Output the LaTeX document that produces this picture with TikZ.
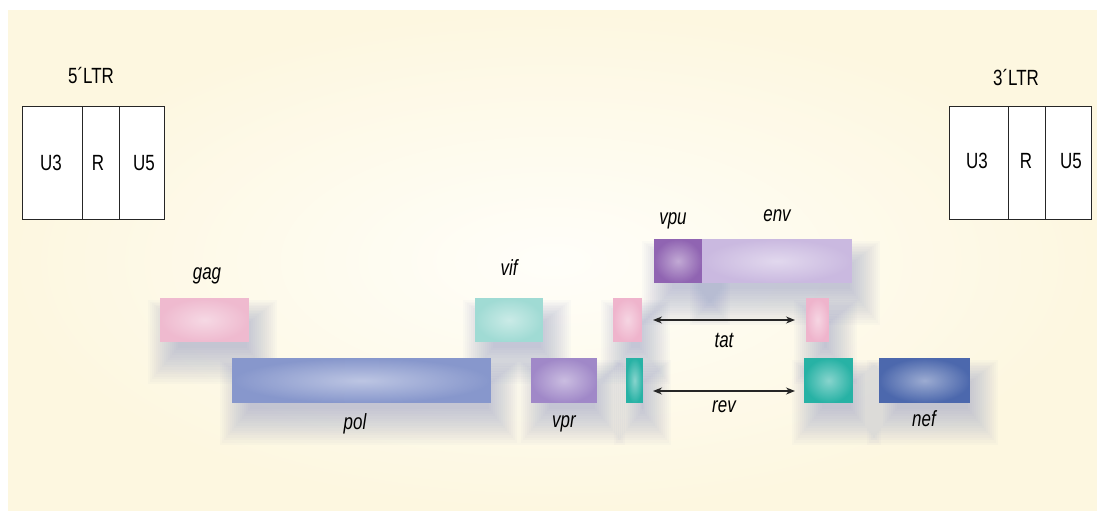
\documentclass[tikz,border=0pt]{standalone}
\usepackage{fontspec}
\setmainfont{Liberation Sans}[FakeStretch=0.77]
\usetikzlibrary{arrows.meta,fadings}
\pgfdeclarelayer{back}
\pgfdeclarelayer{shad}
\pgfsetlayers{back,shad,main}
\definecolor{creamedge}{HTML}{FDF7E0}
\definecolor{creamin}{HTML}{FFFEF9}
\definecolor{shadowc}{HTML}{7C88BE}
\definecolor{gagc}{HTML}{EFBACF}
\definecolor{polc}{HTML}{8797CC}
\definecolor{vifc}{HTML}{A0DBD4}
\definecolor{vprc}{HTML}{A088C8}
\definecolor{vpuc}{HTML}{9064B2}
\definecolor{envc}{HTML}{CAB9E0}
\definecolor{tatc}{HTML}{EFB4CC}
\definecolor{revc}{HTML}{27B2A5}
\definecolor{nefc}{HTML}{4C68AD}
\tikzfading[name=glow, inner color=transparent!55, outer color=transparent!100]
\newcommand\gshadow[1]{%
  \begin{pgfonlayer}{shad}
  \foreach \e in {0,2,...,30}{
    \fill[shadowc, opacity=0.03]
      ([xshift={18pt-\e*1pt}, yshift={-6pt-\e*1.2pt}]#1.south west) rectangle
      ([xshift={-2pt+\e*1pt}, yshift={-26pt+\e*0.8pt}]#1.north east);
  }
  \end{pgfonlayer}}
\tikzset{
  txt/.style={font=\fontsize{22}{26}\selectfont, inner sep=0pt},
  gl/.style={txt, font=\fontsize{22}{26}\selectfont\itshape},
  cell/.style={draw=black!85, line width=1pt, fill=white, minimum height=113pt,
    inner sep=0pt, outer sep=0pt, anchor=north west},
  gene/.style={inner sep=0pt, outer sep=0pt, anchor=north west, fill=#1,
    path picture={\fill[white, path fading=glow]
      (path picture bounding box.south west) rectangle (path picture bounding box.north east);}},
  arr/.style={{Stealth[length=9pt,width=7pt]}-{Stealth[length=9pt,width=7pt]}, line width=1.3pt, black!85},
}
\begin{document}
\begin{tikzpicture}[x=1pt,y=-1pt]
\useasboundingbox (0,0) rectangle (1097,511);
\begin{pgfonlayer}{back}
  \fill[white] (0,0) rectangle (1097,511);
  \shade[inner color=creamin, outer color=creamedge] (8,11) rectangle (1097,511);
\end{pgfonlayer}

% LTRs
\node[cell, minimum width=60pt] (lU3) at (22,106) {};
\node[cell, minimum width=37pt] (lR) at (82,106) {};
\node[cell, minimum width=45pt] (lU5) at (119,106) {};
\node[txt] (tlU3) at (51,163) {U3};
\node[txt] (tlR) at (98,163) {R};
\node[txt] (tlU5) at (144,163) {U5};
\node[txt] (l5) at (91,76) {5´LTR};

\node[cell, minimum width=59pt] (rU3) at (949,106) {};
\node[cell, minimum width=37pt] (rR) at (1008,106) {};
\node[cell, minimum width=46pt] (rU5) at (1045,106) {};
\node[txt] (trU3) at (977,161) {U3};
\node[txt] (trR) at (1026,161) {R};
\node[txt] (trU5) at (1071,161) {U5};
\node[txt] (l3) at (1016,78) {3´LTR};

% genes
\node[gene=gagc, minimum width=89pt, minimum height=44pt] (gag) at (160,298) {};
\node[gene=polc, minimum width=259pt, minimum height=45pt] (pol) at (232,358) {};
\node[gene=vifc, minimum width=68pt, minimum height=44pt] (vif) at (475,298) {};
\node[gene=vprc, minimum width=66pt, minimum height=45pt] (vpr) at (531,358) {};
\node[gene=vpuc, minimum width=48pt, minimum height=44pt] (vpu) at (654,239) {};
\node[gene=envc, minimum width=150pt, minimum height=44pt] (env) at (702,239) {};
\node[gene=tatc, minimum width=29pt, minimum height=44pt] (tatL) at (613,298) {};
\node[gene=tatc, minimum width=23pt, minimum height=44pt] (tatR) at (806,298) {};
\node[gene=revc, minimum width=17pt, minimum height=45pt] (revL) at (626,358) {};
\node[gene=revc, minimum width=49pt, minimum height=45pt] (revR) at (804,358) {};
\node[gene=nefc, minimum width=91pt, minimum height=45pt] (nef) at (879,358) {};

\gshadow{gag}\gshadow{pol}\gshadow{vif}\gshadow{vpr}\gshadow{vpu}\gshadow{env}
\gshadow{tatL}\gshadow{tatR}\gshadow{revL}\gshadow{revR}\gshadow{nef}

% labels
\node[gl] (lgag) at (207,276) {gag};
\node[gl] (lpol) at (355,424) {pol};
\node[gl] (lvif) at (509,268) {vif};
\node[gl] (lvpr) at (564,424) {vpr};
\node[gl] (lvpu) at (673,221) {vpu};
\node[gl] (lenv) at (777,216) {env};
\node[gl] (ltat) at (724,340) {tat};
\node[gl] (lrev) at (724,407) {rev};
\node[gl] (lnef) at (924,419) {nef};

% arrows
\draw[arr] ([xshift=11pt]tatL.east) -- ([xshift=-11pt]tatR.west);
\draw[arr] ([xshift=10pt,yshift=12pt]revL.south east) -- ([xshift=-9pt,yshift=12pt]revR.south west);
\end{tikzpicture}
\end{document}
